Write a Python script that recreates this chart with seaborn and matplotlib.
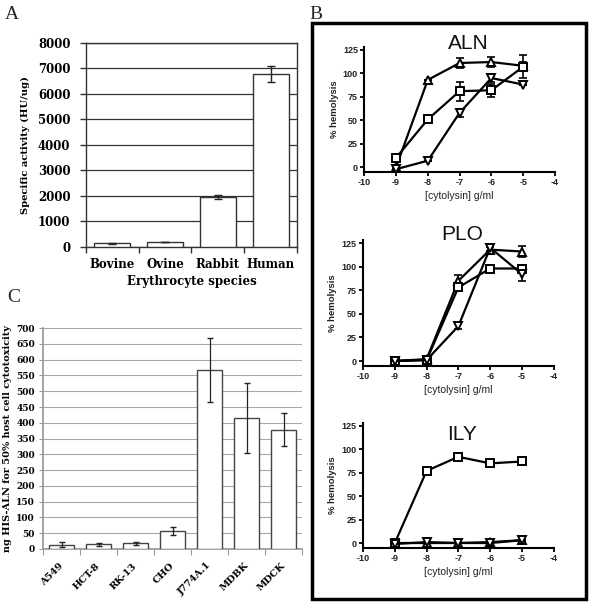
import numpy as np
import pandas as pd
import matplotlib
matplotlib.use('Agg')
import matplotlib.pyplot as plt
import seaborn as sns
from matplotlib.patches import Rectangle

# Panel A data
species = ['Bovine', 'Ovine', 'Rabbit', 'Human']
activity = [150, 200, 1970, 6780]
activity_err = [20, 0, 80, 300]

# Panel C data
cells = ['A549', 'HCT-8', 'RK-13', 'CHO', 'J774A.1', 'MDBK', 'MDCK']
cytotox = [13, 15, 18, 57, 568, 415, 378]
cytotox_err = [8, 4, 5, 14, 102, 110, 53]

# Panel B data (log10 concentration)
conc = [-9, -8, -7, -6, -5]
aln_up = [0, 93, 111, 112, 108]
aln_up_err = [0, 0, 5, 5, 4]
aln_sq = [10, 51, 81, 82, 107]
aln_sq_err = [0, 0, 10, 7, 12]
aln_dn = [-2, 7, 58, 95, 88]
aln_dn_err = [0, 0, 4, 4, 0]

plo_up = [0, 2, 85, 118, 116]
plo_up_err = [0, 0, 6, 3, 6]
plo_sq = [0, 1, 78, 98, 98]
plo_sq_err = [0, 0, 0, 4, 4]
plo_dn = [0, 1, 37, 120, 92]
plo_dn_err = [0, 0, 3, 3, 7]

ily_up = [0, 0, 0, 1, 3]
ily_sq = [0, 77, 92, 85, 87]
ily_dn = [-1, 1, 0, 0, 3]
ily_err = [0, 0, 0, 0, 0]

sns.set_theme(style='white')
plt.rcParams['axes.unicode_minus'] = False
serif = 'DejaVu Serif'
sans = 'Liberation Sans'

fig = plt.figure(figsize=(6, 6.05), dpi=100)

# ---------- Panel A ----------
axA = fig.add_axes([0.143, 0.592, 0.352, 0.337])
dfA = pd.DataFrame({'species': species, 'activity': activity})
sns.barplot(data=dfA, x='species', y='activity', color='white', edgecolor='#333333',
            linewidth=1, width=0.68, errorbar=None, ax=axA, zorder=3)
pos = axA.get_xticks()
axA.errorbar(pos, activity, yerr=activity_err, fmt='none', ecolor='#222222',
             elinewidth=1, capsize=3, zorder=4)
axA.set_ylim(0, 8000)
axA.set_xlim(-0.5, 3.5)
axA.set_yticks(range(0, 8001, 1000))
axA.yaxis.grid(True, color='#333333', linewidth=0.9)
axA.set_axisbelow(True)
for s in axA.spines.values():
    s.set_color('#333333')
    s.set_linewidth(1)
axA.set_xticks([-0.5, 0.5, 1.5, 2.5, 3.5], minor=True)
axA.tick_params(axis='x', which='major', length=0, pad=8)
axA.tick_params(axis='x', which='minor', length=4, width=1, color='#333333', direction='out', bottom=True)
axA.tick_params(axis='y', length=4, width=1, color='#333333', direction='out', left=True, pad=7)
for lab in axA.get_xticklabels() + axA.get_yticklabels():
    lab.set_family(serif)
    lab.set_fontweight('bold')
    lab.set_fontsize(8.5)
    lab.set_color('black')
axA.set_xlabel('Erythrocyte species', family=serif, fontweight='bold', fontsize=8.5,
               color='black', labelpad=3)
axA.set_ylabel('Specific activity (HU/ug)', family=serif, fontweight='bold', fontsize=7.2,
               color='black', labelpad=6)

# ---------- Panel C ----------
axC = fig.add_axes([0.072, 0.0926, 0.432, 0.365])
dfC = pd.DataFrame({'cell': cells, 'value': cytotox})
sns.barplot(data=dfC, x='cell', y='value', color='white', edgecolor='#444444',
            linewidth=1, width=0.68, errorbar=None, ax=axC, zorder=3)
pos = axC.get_xticks()
axC.errorbar(pos, cytotox, yerr=cytotox_err, fmt='none', ecolor='#222222',
             elinewidth=0.9, capsize=2.5, zorder=4)
axC.set_ylim(0, 700)
axC.set_xlim(-0.5, 6.5)
axC.set_yticks(range(0, 701, 50))
axC.yaxis.grid(True, color='#a8a8a8', linewidth=0.8)
axC.set_axisbelow(True)
axC.spines['top'].set_visible(False)
axC.spines['right'].set_visible(False)
axC.spines['left'].set_color('#999999')
axC.spines['bottom'].set_color('#999999')
axC.set_xticks(np.arange(-0.5, 7, 1.0), minor=True)
axC.tick_params(axis='x', which='major', length=0, pad=11)
axC.tick_params(axis='x', which='minor', length=4, width=0.8, color='#999999', direction='out', bottom=True)
axC.tick_params(axis='y', length=3, width=0.8, color='#999999', direction='out', left=True, pad=3)
for lab in axC.get_yticklabels():
    lab.set_family(serif)
    lab.set_fontweight('bold')
    lab.set_fontsize(6.5)
    lab.set_color('black')
for lab in axC.get_xticklabels():
    lab.set_family(serif)
    lab.set_fontweight('bold')
    lab.set_fontsize(7)
    lab.set_rotation(45)
    lab.set_ha('right')
    lab.set_va('center')
    lab.set_rotation_mode('anchor')
    lab.set_color('black')
axC.set_xlabel('')
axC.set_ylabel('ng HIS-ALN for 50% host cell cytotoxicity', family=serif, fontweight='bold',
               fontsize=7, color='black', labelpad=3)

# ---------- Panel B ----------
panels = [
    ('ALN', [0.607, 0.7157, 0.318, 0.2066], (0.545, 0.985),
     [(aln_up, aln_up_err), (aln_sq, aln_sq_err), (aln_dn, aln_dn_err)]),
    ('PLO', [0.605, 0.3955, 0.318, 0.2075], (0.52, 1.0),
     [(plo_up, plo_up_err), (plo_sq, plo_sq_err), (plo_dn, plo_dn_err)]),
    ('ILY', [0.605, 0.0947, 0.318, 0.206], (0.52, 0.865),
     [(ily_up, ily_err), (ily_sq, ily_err), (ily_dn, ily_err)]),
]
markers = ['^', 's', 'v']

for name, rect, tpos, series in panels:
    ax = fig.add_axes(rect)
    for (vals, errs), m in zip(series, markers):
        sns.lineplot(x=conc, y=vals, marker=m, color='black', markerfacecolor='white',
                     markeredgecolor='black', markeredgewidth=1.4, markersize=6.2,
                     linewidth=1.6, ax=ax, zorder=3)
        ax.errorbar(conc, vals, yerr=errs, fmt='none', ecolor='black', elinewidth=1.2,
                    capsize=3, capthick=1.2, zorder=2)
    ax.set_xlim(-10, -4)
    ax.set_ylim(-5, 128)
    ax.set_xticks(range(-10, -3))
    ax.set_yticks(range(0, 126, 25))
    ax.spines['top'].set_visible(False)
    ax.spines['right'].set_visible(False)
    for s in ('left', 'bottom'):
        ax.spines[s].set_color('black')
        ax.spines[s].set_linewidth(1.5)
    ax.tick_params(axis='both', length=3, width=1.3, color='black', direction='out',
                   left=True, bottom=True, pad=1.5)
    for lab in ax.get_xticklabels() + ax.get_yticklabels():
        lab.set_family(sans)
        lab.set_fontweight('bold')
        lab.set_fontsize(6.5)
        lab.set_color('#222222')
    ax.set_xlabel('[cytolysin] g/ml', family=sans, fontsize=7.5, color='#222222', labelpad=3)
    ax.set_ylabel('% hemolysis', family=sans, fontweight='bold', fontsize=6.8,
                  color='#222222', labelpad=3)
    ax.text(tpos[0], tpos[1], name, transform=ax.transAxes, ha='center', va='baseline',
            family=sans, fontsize=15, color='#111111')

fig.patches.append(Rectangle((0.52, 0.0099), 0.457, 0.952, transform=fig.transFigure,
                             fill=False, linewidth=2.5, edgecolor='black'))

# Panel letters
fig.text(0.008, 1 - 6 / 605, 'A', family='Liberation Serif', fontsize=14, va='top', ha='left')
fig.text(0.515, 1 - 6 / 605, 'B', family='Liberation Serif', fontsize=14, va='top', ha='left')
fig.text(0.012, 1 - 289 / 605, 'C', family='Liberation Serif', fontsize=14, va='top', ha='left')

fig.savefig('out.png', dpi=100)
